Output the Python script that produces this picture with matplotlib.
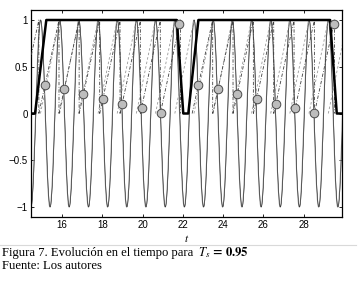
import numpy as np
import matplotlib
matplotlib.use("Agg")
import matplotlib.pyplot as plt
from matplotlib.lines import Line2D

# ---------------- data ----------------
x_ticks = [16, 18, 20, 22, 24, 26, 28]
y_ticks = [-1, -0.5, 0, 0.5, 1]
y_tick_labels = ["\u22121", "\u22120.5", "0", "0.5", "1"]

# sine-like oscillation: times of minima (-1) and maxima (+1)
sine_troughs = [14.45, 15.40, 16.35, 17.31, 18.26, 19.21, 20.16, 21.12, 22.07,
                23.02, 23.97, 24.93, 25.88, 26.83, 27.78, 28.74, 29.69, 30.64]
sine_peaks = [14.93, 15.88, 16.83, 17.79, 18.74, 19.69, 20.64, 21.60, 22.55,
              23.50, 24.45, 25.41, 26.36, 27.31, 28.26, 29.22, 30.17]

# sampled phase (circle markers)
sample_t = [15.16, 16.11, 17.06, 18.04, 19.00, 19.96, 20.90, 21.81,
            22.77, 23.74, 24.70, 25.66, 26.61, 27.57, 28.53, 29.49]
sample_phase = [0.31, 0.26, 0.21, 0.155, 0.105, 0.055, 0.005, 0.96,
                0.31, 0.26, 0.21, 0.155, 0.105, 0.055, 0.005, 0.96]

# phase ramp (dash-dot) : start (value 0) and end (value 1) of each ramp
ramp_a_start = [13.85, 14.85, 15.85, 16.85, 17.87, 18.88, 19.89, 20.88,
                22.46, 23.48, 24.49, 25.50, 26.51, 27.52, 28.53]
ramp_a_end = [14.85, 15.85, 16.85, 17.87, 18.88, 19.89, 20.88, 21.88,
              23.48, 24.49, 25.50, 26.51, 27.52, 28.53, 29.53]

# thick enable signal
enable_t = [14.40, 14.66, 15.22, 21.70, 22.02, 22.27, 22.77, 29.31, 29.64, 30.0]
enable_v = [0, 0, 1, 1, 0, 0, 1, 1, 0, 0]

# ---------------- figure ----------------
plt.rcParams['mathtext.fontset'] = 'stix'
fig = plt.figure(figsize=(3.62, 2.85), dpi=100)
ax = fig.add_axes([31/362, 1-217/285, (342-31)/362, (217-10)/285])

# sine curve built from read extrema (half-cosine shape between extrema)
ext = sorted([(t, -1.0) for t in sine_troughs] + [(t, 1.0) for t in sine_peaks])
st, sy = [], []
for (t0, v0), (t1, v1) in zip(ext[:-1], ext[1:]):
    s = np.linspace(0, 1, 25)
    st.extend(t0 + (t1 - t0) * s)
    sy.extend(v0 + (v1 - v0) * (1 - np.cos(np.pi * s)) / 2)
ax.plot(st, sy, color='0.6', lw=0.8, zorder=2)
ax.plot(np.array(st) + 0.012, sy, color='0.15', lw=0.4, zorder=2)

# dashed ramp: from one sine peak to the next
bt, by = [], []
for p0, p1 in zip(sine_peaks[:-1], sine_peaks[1:]):
    bt += [p0, p1, np.nan]
    by += [0, 1, np.nan]
ax.plot(bt, by, color='0.6', lw=0.6, ls=(0, (3, 2.5)), zorder=3)

# dash-dot ramp (phase)
at, ay = [], []
for a0, a1 in zip(ramp_a_start, ramp_a_end):
    at += [a0, a1, a1, np.nan]
    ay += [0, 1, 0, np.nan]
ax.plot(at, ay, color='0.25', lw=0.6, ls=(0, (4, 2, 1, 2)), zorder=3)

ax.plot(enable_t, enable_v, color='black', lw=1.8, zorder=4)

ax.plot(sample_t, sample_phase, ls='none', marker='o', ms=6.2,
        mfc='#bdbdbd', mec='#4a4a4a', mew=0.7, zorder=5)

ax.set_xlim(14.46, 29.9)
ax.set_ylim(-1.107, 1.107)
ax.set_xticks(x_ticks)
ax.set_xticklabels([str(v) for v in x_ticks])
ax.set_yticks(y_ticks)
ax.set_yticklabels(y_tick_labels)
ax.tick_params(direction='in', length=2.5, width=0.6, top=True, right=True,
               labelsize=7, pad=2.5)
for lab in ax.get_xticklabels() + ax.get_yticklabels():
    lab.set_family('Liberation Sans')
for sp in ax.spines.values():
    sp.set_linewidth(0.9)
ax.set_xlabel('$t$', fontsize=8, labelpad=2)

# caption
fig.add_artist(Line2D([0, 356/362], [1-245/285]*2, color='0.85', lw=0.8))
fig.text(2/362, 1-253/285, 'Figura 7. Evolución en el tiempo para',
         family='Liberation Serif', fontsize=9.1, va='center', ha='left')
fig.text(198/362, 1-253/285, '$T_s\\,\\mathbf{=}\\,\\mathbf{0.95}$',
         fontsize=9.1, va='center', ha='left')
fig.text(2/362, 1-266/285, 'Fuente: Los autores',
         family='Liberation Serif', fontsize=9.1, va='center', ha='left')

fig.savefig('out.png', dpi=100, facecolor='white')
